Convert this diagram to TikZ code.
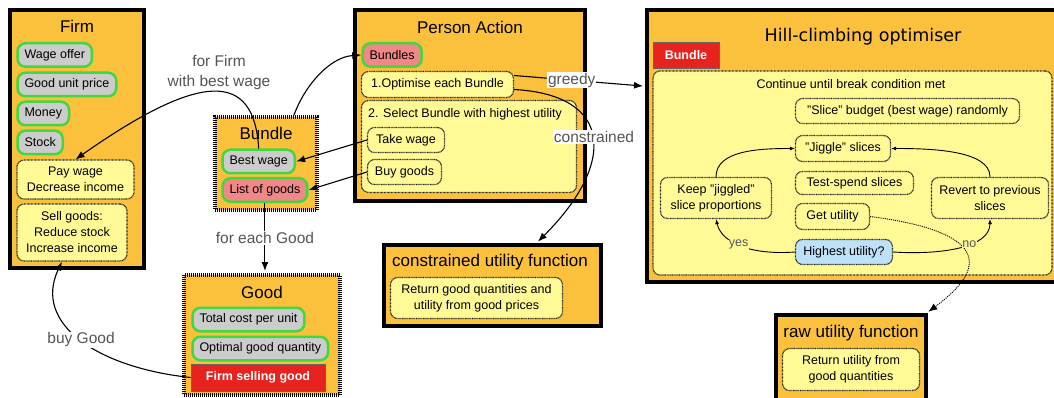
\documentclass[tikz,border=0pt]{standalone}
\usepackage{fontspec}
\setmainfont{Liberation Sans}
\newfontfamily\hillfont{DejaVu Sans}
\usepackage{tikz}
\usetikzlibrary{arrows.meta}

\definecolor{boxorange}{RGB}{251,193,61}
\definecolor{taskyellow}{RGB}{255,250,150}
\definecolor{fieldgray}{RGB}{204,204,204}
\definecolor{fieldgreen}{RGB}{65,215,65}
\definecolor{fieldpink}{RGB}{242,135,135}
\definecolor{tagred}{RGB}{230,35,30}
\definecolor{askblue}{RGB}{190,225,250}
\definecolor{labelgray}{RGB}{85,85,85}

\newcommand{\itemsize}{\fontsize{12.5}{16}\selectfont}
\newcommand{\titlesize}{\fontsize{17}{20}\selectfont}
\newcommand{\edgesize}{\fontsize{15.5}{20}\selectfont}

\tikzstyle{container}=[draw, line width=4pt, fill=boxorange, inner sep=0pt]
\tikzstyle{hatched}=[container, dash pattern=on 1pt off 1pt]
\tikzstyle{field}=[draw=fieldgreen, line width=2.5pt, fill=fieldgray, rounded corners=8pt, anchor=west, inner xsep=7pt, inner ysep=0pt, minimum height=23.5pt, font=\itemsize]
\tikzstyle{task}=[draw=black!85, line width=1.2pt, dash pattern=on 0.8pt off 0.6pt, fill=taskyellow, rounded corners=7pt, align=center, inner sep=0pt, font=\itemsize]
\tikzstyle{tag}=[draw=black!60, line width=0.8pt, fill=tagred, text=white, inner sep=0pt, font=\itemsize\bfseries]
\tikzstyle{boxtitle}=[inner sep=0pt, font=\titlesize]
\tikzstyle{flowlabel}=[fill=white, text=labelgray, inner sep=1pt, align=center, font=\edgesize]
\tikzstyle{looplabel}=[fill=taskyellow, text=labelgray, inner sep=0.5pt, font=\itemsize]
\tikzstyle{link}=[line width=1.1pt, -{Latex[length=9pt,width=7pt]}]
\tikzstyle{smalllink}=[line width=0.9pt, -{Latex[length=5pt,width=4pt]}]

\begin{document}
\begin{tikzpicture}[x=1pt, y=-1pt]
    \useasboundingbox (0,0) rectangle (1054,398);
    \clip (0,0) rectangle (1054,398);

    % Firm
    \node[container, minimum width=134, minimum height=258] (firm) at (77,139) {};
    \node[boxtitle] (firmtitle) at (77,26) {Firm};
    \node[field] (wage) at (16.25,55) {Wage offer};
    \node[field] (price) at (16.25,84.5) {Good unit price};
    \node[field] (money) at (16.25,113.5) {Money};
    \node[field] (stock) at (16.25,142.5) {Stock};
    \node[task, minimum width=117, minimum height=39] (paywage) at (75.5,179.5) {Pay wage\\Decrease income};
    \node[task, minimum width=110, minimum height=57] (sellgoods) at (72,232.5) {Sell goods:\\Reduce stock\\Increase income};

    % Person Action
    \node[container, minimum width=230, minimum height=191] (person) at (470,105.5) {};
    \node[boxtitle] (persontitle) at (470,27) {Person Action};
    \node[field, fill=fieldpink] (bundles) at (361.25,55) {Bundles};
    \node[task, minimum width=152, minimum height=26] (optimise) at (437.5,84.5) {1.Optimise each Bundle};
    \node[task, minimum width=215, minimum height=92] (select) at (469,146.5) {};
    \node[inner sep=0pt, font=\itemsize] (selecttext) at (465,114) {2. Select Bundle with highest utility};
    \node[task, minimum width=77, minimum height=25] (takewage) at (406,140) {Take wage};
    \node[task, minimum width=74, minimum height=25] (buygoods) at (404.5,172) {Buy goods};

    % Bundle
    \node[hatched, minimum width=102, minimum height=93] (bundlebox) at (266,163.5) {};
    \node[boxtitle] (bundletitle) at (266,133) {Bundle};
    \node[field] (bestwage) at (221.25,161.5) {Best wage};
    \node[field, fill=fieldpink] (listgoods) at (221.25,190) {List of goods};

    % Good
    \node[hatched, minimum width=156, minimum height=120] (goodbox) at (262,335) {};
    \node[boxtitle] (goodtitle) at (262,292) {Good};
    \node[field] (totalcost) at (191.25,319.5) {Total cost per unit};
    \node[field] (optimal) at (191.25,348.5) {Optimal good quantity};
    \node[tag, minimum width=134, minimum height=27] (firmsell) at (258,377.5) {Firm selling good};

    % constrained utility function
    \node[container, minimum width=217, minimum height=81] (cubox) at (492.5,285.5) {};
    \node[boxtitle, anchor=west] (cutitle) at (392,262) {constrained utility function};
    \node[task, minimum width=172, minimum height=41] (cureturn) at (476.5,298) {Return good quantities and\\utility from good prices};

    % Hill-climbing optimiser
    \node[container, minimum width=413, minimum height=272] (hillbox) at (853.5,146) {};
    \node[boxtitle, font=\hillfont\fontsize{17.5}{20}\selectfont] (hilltitle) at (863,37) {Hill-climbing optimiser};
    \node[tag, minimum width=66, minimum height=26] (bundletag) at (686,55) {Bundle};
    \node[task, minimum width=399, minimum height=204] (loop) at (852.5,173) {};
    \node[inner sep=0pt, font=\itemsize] (looptext) at (851,84) {Continue until break condition met};
    \node[task, minimum width=224, minimum height=25] (slice) at (907.5,111) {"Slice" budget (best wage) randomly};
    \node[task, minimum width=95, minimum height=26] (jiggle) at (843,148.5) {"Jiggle" slices};
    \node[task, minimum width=118, minimum height=23] (testspend) at (854.5,183) {Test-spend slices};
    \node[task, minimum width=74, minimum height=26] (getutil) at (832.5,216.5) {Get utility};
    \node[task, fill=askblue, minimum width=97, minimum height=25] (highest) at (844,252) {Highest utility?};
    \node[task, minimum width=111, minimum height=41] (keep) at (716,198) {Keep "jiggled"\\slice proportions};
    \node[task, minimum width=117, minimum height=41] (revert) at (990,198) {Revert to previous\\slices};

    % raw utility function
    \node[container, minimum width=150, minimum height=87] (rawbox) at (851,358.5) {};
    \node[boxtitle] (rawtitle) at (851,333) {raw utility function};
    \node[task, minimum width=137, minimum height=42] (rawreturn) at (851,369.5) {Return utility from\\good quantities};

    % Connect boxes
    \draw[link] (bestwage.north) .. controls (254,70) and (200,72) .. (paywage.north);
    \draw[link] (bundlebox.60) .. controls (305,85) and (330,57) .. (bundles.west);
    \draw[link] (takewage.west) -- (bestwage.east);
    \draw[link] (buygoods.west) -- (listgoods.east);
    \draw[link, shorten >=2pt] (listgoods.south) -- node[flowlabel] {for each Good} (listgoods.south |- goodbox.north);
    \draw[link] (firmsell.west) .. controls (100,368) and (32,325) .. node[flowlabel] {buy Good} (sellgoods.251);
    \draw[link, shorten >=2pt] ([yshift=9pt]optimise.east) -- node[flowlabel, pos=0.44] {greedy} (hillbox.164);
    \draw[link, shorten >=2pt] ([yshift=-5pt]optimise.east) .. controls (615,95) and (615,165) .. (cubox.44);
    \draw[link, densely dotted, line width=0.9pt, shorten >=2pt] (getutil.east) .. controls (960,228) and (1005,255) .. (rawbox.31);

    % Hill-climbing loop
    \draw[smalllink] (keep.north) .. controls (716,150) and (760,148.5) .. (jiggle.west);
    \draw[smalllink] (revert.north) .. controls (990,150) and (930,148.5) .. (jiggle.east);
    \draw[smalllink] (highest.west) .. controls (755,255) and (722,245) .. node[looplabel, pos=0.55] {yes} (keep.south);
    \draw[smalllink] (highest.east) .. controls (940,255) and (990,248) .. node[looplabel, pos=0.6] {no} (revert.south);

    % labels on top of their links
    \node[flowlabel] (lblfirm) at (219,72) {for Firm\\with best wage};
    \node[flowlabel] (lblcons) at (594,137) {constrained};
\end{tikzpicture}
\end{document}
